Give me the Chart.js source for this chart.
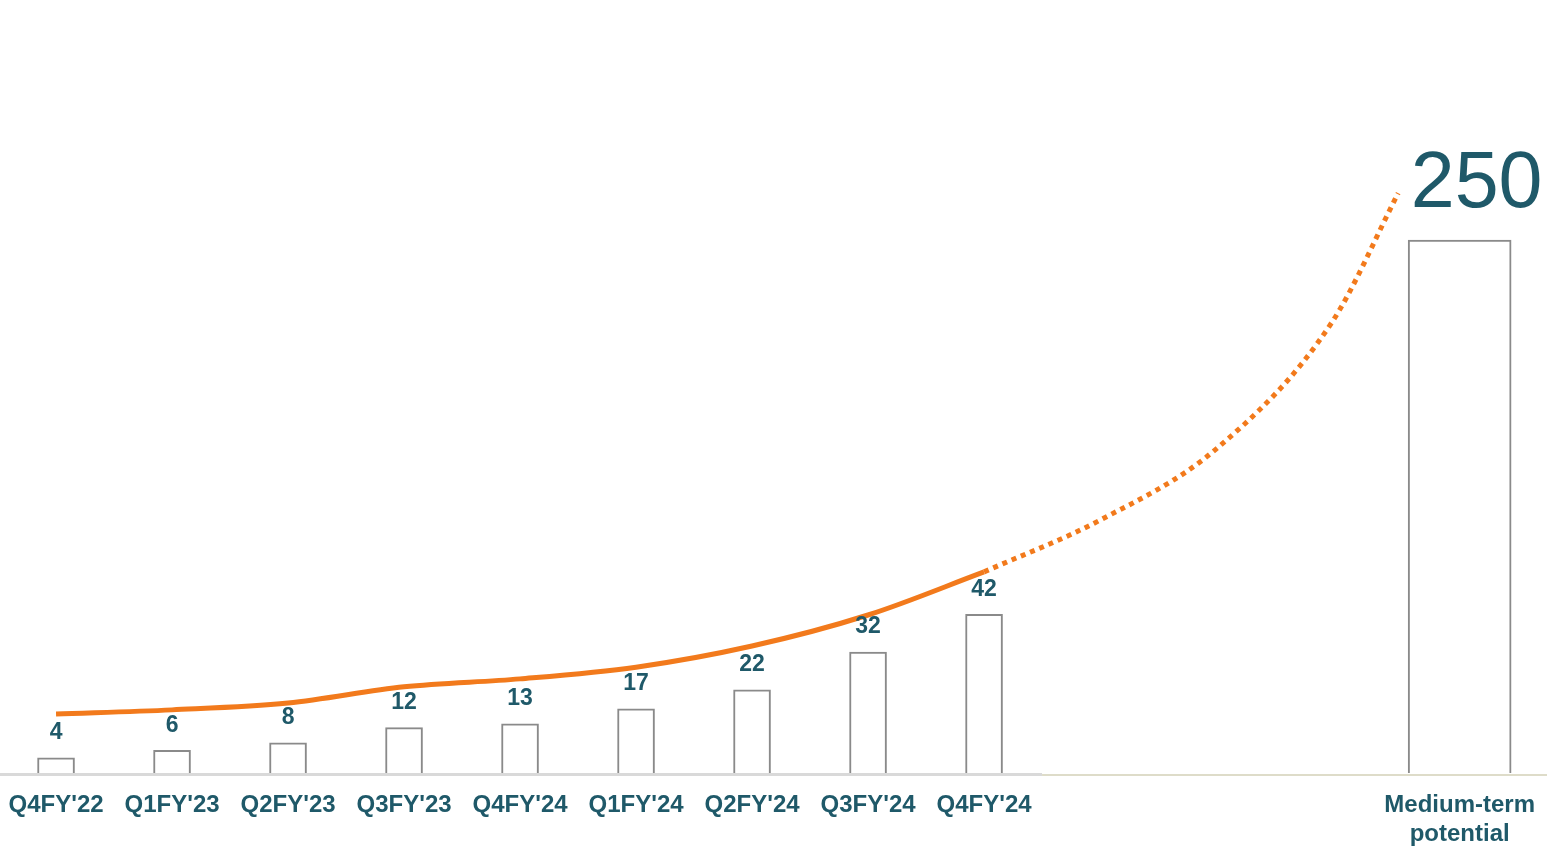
<!DOCTYPE html>
<html lang="en">
<head>
  <meta charset="UTF-8" />
  <title>Medium-term potential</title>
  <script src="https://cdn.jsdelivr.net/npm/chart.js"></script>
  <style>
    html, body { margin: 0; padding: 0; background: #fff; }
    canvas { display: block; }
  </style>
</head>
<body>
<canvas id="chart" width="1547" height="850"></canvas>
<script>
// categories and their slot on the x axis (in quarters)
const categories = ["Q4FY'22", "Q1FY'23", "Q2FY'23", "Q3FY'23", "Q4FY'24", "Q1FY'24", "Q2FY'24", "Q3FY'24", "Q4FY'24", ["Medium-term", "potential"]];
const slots = [0, 1, 2, 3, 4, 5, 6, 7, 8, 12.1];

const barValues = [4, 6, 8, 12, 13, 17, 22, 32, 42];
const mediumTermValue = 250;

// orange trend line: actual part, then dotted projection
const trendValues = [15.6, 16.7, 18.5, 22.8, 24.9, 28.0, 33.6, 41.8, 53.2];
const projectionSlots = [8, 9, 10, 11, 11.57];
const projectionValues = [53.2, 66.9, 85.7, 119.3, 153.4];

const TEAL = '#1f5969';
const ORANGE = '#f27a1c';
const FONT = '"Liberation Sans", Arial, sans-serif';

const quarterBars = barValues.map((v, i) => ({ x: slots[i], y: v }));
const mediumBar = [{ x: slots[slots.length - 1], y: mediumTermValue }];
const trend = trendValues.map((v, i) => ({ x: slots[i], y: v }));
const projection = projectionValues.map((v, i) => ({ x: projectionSlots[i], y: v }));

const valueLabels = {
  id: 'valueLabels',
  afterDatasetsDraw(chart) {
    const ctx = chart.ctx;
    ctx.save();
    ctx.fillStyle = TEAL;
    ctx.textAlign = 'center';
    chart.getDatasetMeta(0).data.forEach((bar, i) => {
      ctx.font = 'bold 23px ' + FONT;
      ctx.textBaseline = 'middle';
      ctx.fillText(barValues[i], bar.x, bar.y - 25);
    });
    chart.getDatasetMeta(1).data.forEach(bar => {
      ctx.font = '79px ' + FONT;
      ctx.textBaseline = 'alphabetic';
      ctx.fillText(mediumTermValue, bar.x + 17, bar.y - 33);
    });
    ctx.restore();
  }
};

const baseline = {
  id: 'baseline',
  afterDatasetsDraw(chart) {
    const ctx = chart.ctx;
    const x = chart.scales.x;
    const y = chart.scales.y.getPixelForValue(0);
    const split = x.getPixelForValue(8.5);
    ctx.save();
    ctx.fillStyle = '#d9d9d9';
    ctx.fillRect(0, y, split, 3);
    ctx.fillStyle = '#dedcc9';
    ctx.fillRect(split, y + 1, chart.width - split, 2);
    ctx.restore();
  }
};

new Chart(document.getElementById('chart'), {
  data: {
    datasets: [
      { type: 'bar', data: quarterBars, yAxisID: 'y', grouped: false, barThickness: 37,
        backgroundColor: '#ffffff', borderColor: '#8a8a8a', borderWidth: 2, order: 2 },
      { type: 'bar', data: mediumBar, yAxisID: 'y2', grouped: false, barThickness: 103,
        backgroundColor: '#ffffff', borderColor: '#8a8a8a', borderWidth: 2, order: 2 },
      { type: 'line', data: trend, yAxisID: 'y', borderColor: ORANGE, borderWidth: 5,
        pointRadius: 0, cubicInterpolationMode: 'monotone', order: 1 },
      { type: 'line', data: projection, yAxisID: 'y', borderColor: ORANGE, borderWidth: 5,
        borderDash: [5, 5], borderCapStyle: 'butt', pointRadius: 0,
        cubicInterpolationMode: 'monotone', order: 1 }
    ]
  },
  options: {
    responsive: false,
    animation: false,
    layout: { padding: 0, autoPadding: false },
    plugins: { legend: { display: false }, tooltip: { enabled: false } },
    scales: {
      x: {
        type: 'linear',
        offset: false,
        min: -0.483,
        max: 12.853,
        grid: { display: false, drawTicks: false },
        border: { display: false },
        afterBuildTicks: axis => { axis.ticks = slots.map(v => ({ value: v })); },
        afterFit: axis => {
          axis.height = 77;
          axis.paddingLeft = 0;
          axis.paddingRight = 0;
        },
        ticks: {
          autoSkip: false,
          maxRotation: 0,
          padding: 18,
          color: TEAL,
          font: { family: FONT, size: 24, weight: 'bold', lineHeight: 1.2 },
          callback: (value, index) => categories[index]
        }
      },
      y: { display: false, min: 0, max: 204.5 },
      y2: { display: false, min: 0, max: 362.6 }
    }
  },
  plugins: [valueLabels, baseline]
});
</script>
</body>
</html>
